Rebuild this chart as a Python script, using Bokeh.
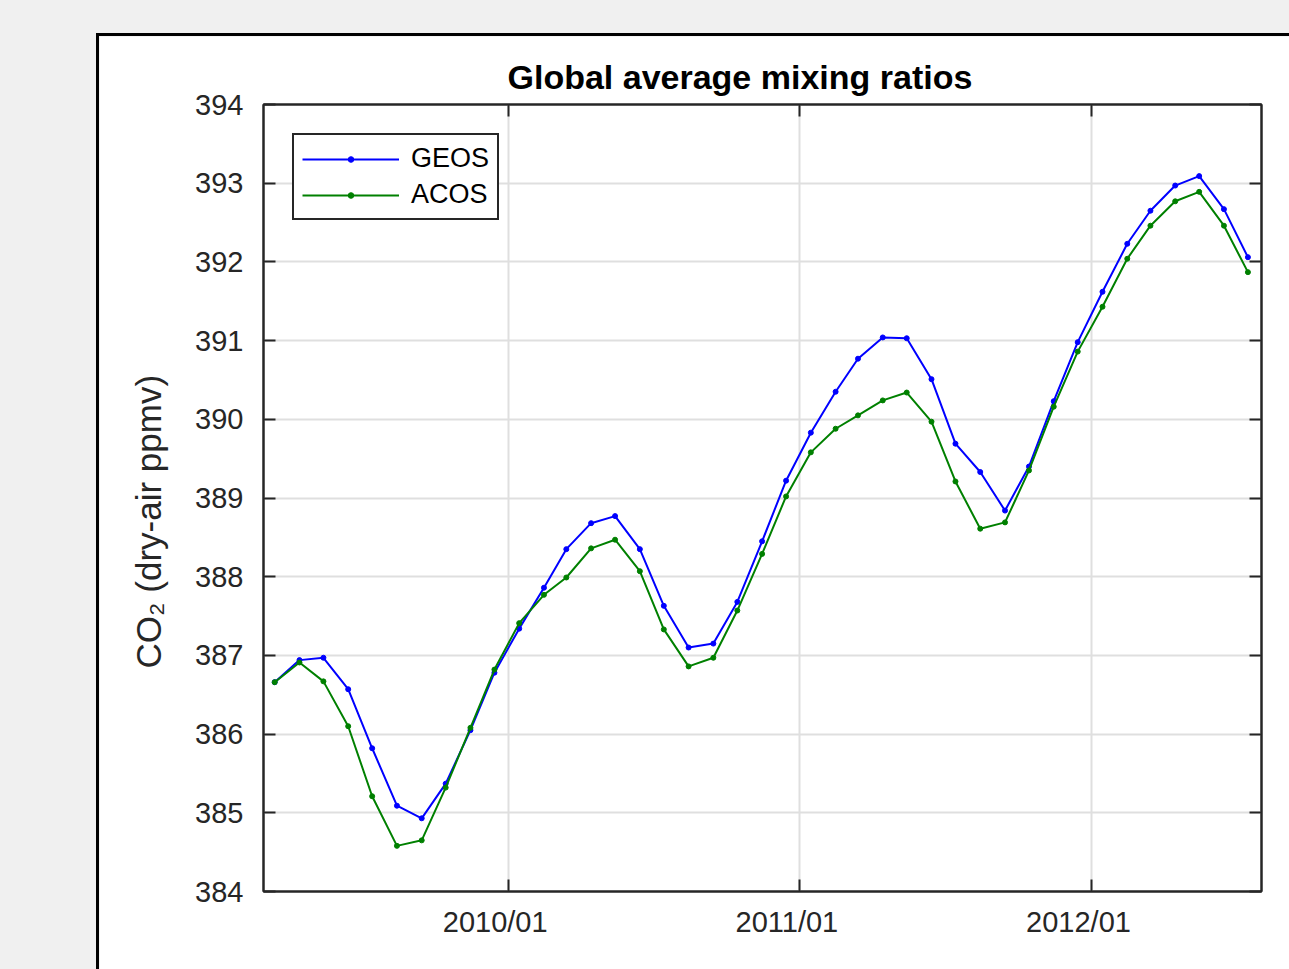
import pandas as pd
from bokeh.plotting import figure
from bokeh.models import (Range1d, FixedTicker, LinearAxis, DatetimeAxis,
                          CustomJSTickFormatter, Title)
from bokeh.embed import file_html
from bokeh.resources import INLINE

# ---- data (monthly global means) ----
months = pd.date_range("2009-03-01", "2012-07-01", freq="MS") + pd.Timedelta(days=14)

geos = [386.66, 386.94, 386.97, 386.57, 385.82, 385.09, 384.93, 385.37, 386.05, 386.78,
        387.34, 387.86, 388.35, 388.68, 388.77, 388.35, 387.63, 387.10, 387.15, 387.68,
        388.45, 389.22, 389.83, 390.35, 390.77, 391.04, 391.03, 390.51, 389.69, 389.33,
        388.84, 389.40, 390.23, 390.98, 391.62, 392.23, 392.65, 392.97, 393.09, 392.67,
        392.06]

acos = [386.66, 386.91, 386.67, 386.10, 385.21, 384.58, 384.65, 385.32, 386.08, 386.82,
        387.41, 387.77, 387.99, 388.36, 388.47, 388.07, 387.33, 386.86, 386.97, 387.57,
        388.29, 389.02, 389.58, 389.88, 390.05, 390.24, 390.34, 389.97, 389.21, 388.61,
        388.69, 389.35, 390.16, 390.86, 391.43, 392.04, 392.46, 392.77, 392.89, 392.46,
        391.87]

x_start = "2009-03-01"
x_end = "2012-08-01"
year_ticks = ["2010-01-01", "2011-01-01", "2012-01-01"]
y_ticks = [384, 385, 386, 387, 388, 389, 390, 391, 392, 393, 394]

series_names = ["GEOS", "ACOS"]
series_colors = ["#0000ff", "#008000"]

title_text = "Global average mixing ratios"
ylabel_text = "CO\u2082 (dry-air ppmv)"

# ---- figure ----
FONT = "Liberation Sans"
AX = "#262626"
DAY_MS = 86400000
LABEL_SHIFT_DAYS = 16   # the reference draws its date labels slightly left of the ticks

def ms(d):
    return pd.Timestamp(d).value // 10**6

xt = [ms(d) for d in year_ticks]
xt_lab = [t - LABEL_SHIFT_DAYS * DAY_MS for t in xt]

p = figure(x_axis_type="datetime", output_backend="svg", toolbar_location=None,
           frame_width=998, frame_height=787,
           min_border_left=164, min_border_right=28, min_border_top=68, min_border_bottom=78,
           x_range=Range1d(start=pd.Timestamp(x_start), end=pd.Timestamp(x_end)),
           y_range=Range1d(start=y_ticks[0], end=y_ticks[-1]),
           background_fill_color="white", border_fill_color="white")
p.margin = (33, 0, 0, 96)
p.styles = {"border-left": "3px solid #000000", "border-top": "3px solid #000000"}

p.outline_line_color = AX
p.outline_line_width = 2

p.title.text = title_text
p.title.text_font = FONT
p.title.text_font_size = "34px"
p.title.text_font_style = "bold"
p.title.text_color = "#000000"
p.title.align = "left"
p.title.offset = 244
p.title.standoff = 18

blank = CustomJSTickFormatter(code="return ''")

# bottom axis: ticks only
xa = p.xaxis[0]
xa.ticker = FixedTicker(ticks=xt)
xa.formatter = blank
xa.major_label_standoff = 0
# left axis
ya = p.yaxis[0]
ya.ticker = FixedTicker(ticks=y_ticks)

for a in (xa, ya):
    a.axis_line_color = AX
    a.axis_line_width = 2
    a.major_tick_line_color = AX
    a.major_tick_line_width = 2
    a.major_tick_in = 12
    a.major_tick_out = 0
    a.minor_tick_line_color = None
    a.major_label_text_font = FONT
    a.major_label_text_font_size = "29px"
    a.major_label_text_color = AX
ya.major_label_standoff = 20

# bottom date labels (second axis, labels only)
date_fmt = CustomJSTickFormatter(code="""
const d = new Date(tick + %d);
return d.getUTCFullYear() + "/" + String(d.getUTCMonth() + 1).padStart(2, "0");
""" % (LABEL_SHIFT_DAYS * DAY_MS))
xlab = DatetimeAxis(ticker=FixedTicker(ticks=xt_lab), formatter=date_fmt)
xlab.axis_line_color = None
xlab.major_tick_line_color = None
xlab.minor_tick_line_color = None
xlab.major_tick_in = 0
xlab.major_tick_out = 0
xlab.major_label_standoff = 14
xlab.major_label_text_font = FONT
xlab.major_label_text_font_size = "29px"
xlab.major_label_text_color = AX
p.add_layout(xlab, "below")

# y label as a vertical title on the left (allows precise placement)
ylab = Title(text=ylabel_text, align="left", offset=223, standoff=50,
             text_font=FONT, text_font_size="35px", text_font_style="normal",
             text_color=AX)
p.add_layout(ylab, "left")

# top and right axes: ticks only
top = LinearAxis(ticker=FixedTicker(ticks=xt), formatter=blank)
right = LinearAxis(ticker=FixedTicker(ticks=y_ticks), formatter=blank)
for a in (top, right):
    a.axis_line_color = AX
    a.axis_line_width = 2
    a.major_tick_line_color = AX
    a.major_tick_line_width = 2
    a.major_tick_in = 12
    a.major_tick_out = 0
    a.minor_tick_line_color = None
    a.major_label_standoff = 0
p.add_layout(top, "above")
p.add_layout(right, "right")

# grid
p.xgrid.ticker = FixedTicker(ticks=xt)
p.ygrid.ticker = FixedTicker(ticks=y_ticks)
for g in (p.xgrid[0], p.ygrid[0]):
    g.grid_line_color = "#dfdfdf"
    g.grid_line_width = 2

# data
for name, vals, col in zip(series_names, [geos, acos], series_colors):
    p.line(months, vals, line_color=col, line_width=2, legend_label=name)
    p.scatter(months, vals, size=5, fill_color=col, line_color=col, legend_label=name)

lg = p.legend[0]
lg.location = "top_left"
lg.margin = 29
lg.padding = 8
lg.spacing = 5
lg.glyph_width = 97
lg.glyph_height = 14
lg.label_height = 27
lg.label_standoff = 12
lg.label_text_font = FONT
lg.label_text_font_size = "27px"
lg.label_text_color = "#000000"
lg.border_line_color = AX
lg.border_line_width = 2
lg.border_line_alpha = 1.0
lg.background_fill_color = "white"
lg.background_fill_alpha = 1.0

html = file_html(p, INLINE, title=title_text)
html = html.replace("</head>",
                    "<style>html,body{margin:0;padding:0;background:#f0f0f0;overflow:hidden;}</style>\n</head>", 1)
open("out.html", "w").write(html)
